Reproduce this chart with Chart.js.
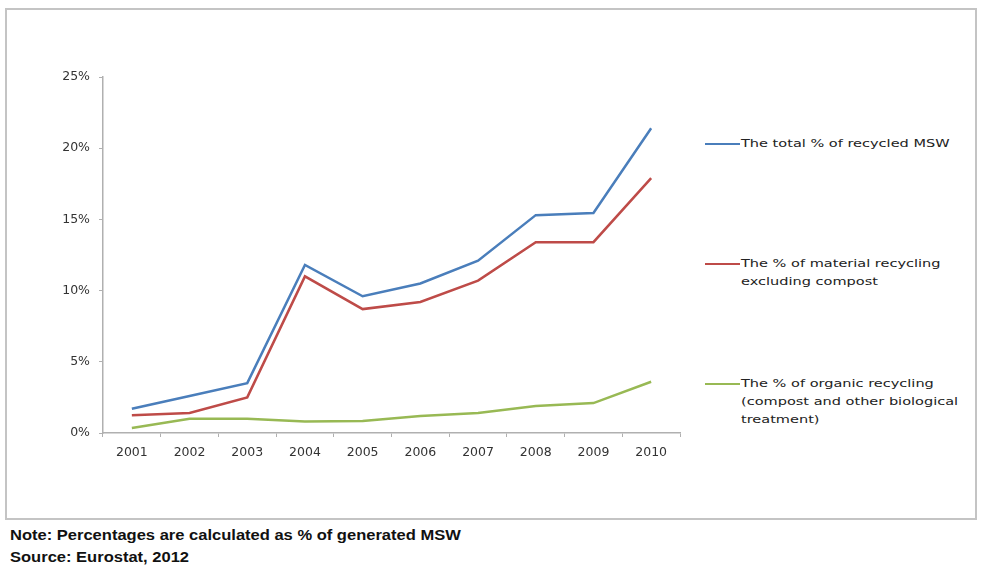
<!DOCTYPE html>
<html>
<head>
<meta charset="utf-8">
<script src="https://cdn.jsdelivr.net/npm/chart.js@4"></script>
<style>
  body { margin: 0; background: #fff; width: 981px; height: 570px; position: relative; overflow: hidden; }
  .frame { position: absolute; left: 5px; top: 8px; width: 972px; height: 512px; border: 2px solid #c4c4c4; box-sizing: border-box; }
  .wrap { position: absolute; left: 0; top: 0; width: 690px; height: 470px; }
  .legend { position: absolute; left: 705px; font-family: "DejaVu Sans", sans-serif; font-size: 11px; color: #222; line-height: 18px; }
  .legend .sw { position: absolute; left: 0; top: 8px; width: 35px; height: 2px; }
  .legend .tx { margin-left: 36px; transform: scaleX(1.32); transform-origin: left top; white-space: nowrap; }
  .note { position: absolute; left: 10px; font-family: "Liberation Sans", Arial, sans-serif; font-weight: bold; font-size: 14px; color: #111; transform: scaleX(1.18); transform-origin: left top; white-space: nowrap; }
</style>
</head>
<body>
<div class="frame"></div>
<div class="wrap"><canvas id="myChart" width="690" height="470"></canvas></div>
<div class="legend" style="top:135px"><div class="sw" style="background:#4a7ebb"></div><div class="tx">The total % of recycled MSW</div></div>
<div class="legend" style="top:255px"><div class="sw" style="background:#be4b48"></div><div class="tx">The % of material recycling<br>excluding compost</div></div>
<div class="legend" style="top:375px"><div class="sw" style="background:#98b954"></div><div class="tx">The % of organic recycling<br>(compost and other biological<br>treatment)</div></div>
<div class="note" style="top:527px">Note: Percentages are calculated as % of generated MSW</div>
<div class="note" style="top:549px">Source: Eurostat, 2012</div>
<script>
const years = ['2001', '2002', '2003', '2004', '2005', '2006', '2007', '2008', '2009', '2010'];
const totalRecycled = [1.7, 2.6, 3.5, 11.8, 9.6, 10.5, 12.1, 15.3, 15.45, 21.4];
const materialRecycling = [1.25, 1.4, 2.5, 11.0, 8.7, 9.2, 10.7, 13.4, 13.4, 17.9];
const organicRecycling = [0.35, 1.0, 1.0, 0.8, 0.85, 1.2, 1.4, 1.9, 2.1, 3.6];
const yTicks = [0, 5, 10, 15, 20, 25];

const ctx = document.getElementById('myChart').getContext('2d');

const line = (label, data, color) => ({
  label: label,
  data: data,
  borderColor: color,
  backgroundColor: color,
  borderWidth: 2.5,
  pointRadius: 0,
  tension: 0
});

new Chart(ctx, {
  type: 'line',
  data: {
    labels: years,
    datasets: [
      line('The total % of recycled MSW', totalRecycled, '#4a7ebb'),
      line('The % of material recycling excluding compost', materialRecycling, '#be4b48'),
      line('The % of organic recycling (compost and other biological treatment)', organicRecycling, '#98b954')
    ]
  },
  options: {
    responsive: false,
    animation: false,
    layout: { padding: { top: 77, right: 10 } },
    plugins: { legend: { display: false }, tooltip: { enabled: false } },
    scales: {
      x: {
        offset: true,
        afterFit: s => { s.height = 37; },
        grid: { display: true, offset: true, drawOnChartArea: false, tickLength: 4, color: '#b0b0b0' },
        border: { color: '#b0b0b0', width: 1.5 },
        ticks: { color: '#333', font: { family: 'DejaVu Sans', size: 12.5 }, padding: 8 }
      },
      y: {
        min: 0,
        max: 25,
        afterFit: s => { s.width = 103; },
        afterBuildTicks: s => { s.ticks = yTicks.map(v => ({ value: v })); },
        grid: { display: true, drawOnChartArea: false, tickLength: 4, color: '#b0b0b0' },
        border: { color: '#b0b0b0', width: 1.5 },
        ticks: { color: '#333', font: { family: 'DejaVu Sans', size: 12.5 }, padding: 9, callback: v => v + '%' }
      }
    }
  }
});
</script>
</body>
</html>
